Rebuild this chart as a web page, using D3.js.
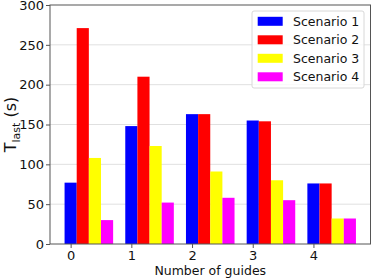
<!DOCTYPE html>
<html>
<head>
<meta charset="utf-8">
<script src="https://cdn.jsdelivr.net/npm/d3@7"></script>
<style>
  body { margin: 0; background: #fff; }
  text { font-family: "DejaVu Sans", sans-serif; }
</style>
</head>
<body>
<svg id="chart" width="374" height="278"></svg>
<script>
// data
const guides = [0, 1, 2, 3, 4];
const scenarios = ["Scenario 1", "Scenario 2", "Scenario 3", "Scenario 4"];
const colors = ["#0000ff", "#ff0000", "#ffff00", "#ff00ff"];
const scenario1 = [77, 148, 163, 155, 76];
const scenario2 = [271, 210, 163, 154, 76];
const scenario3 = [108, 123, 91, 80, 32];
const scenario4 = [30, 52, 58, 55, 32];
const series = [scenario1, scenario2, scenario3, scenario4];
const yTicks = [0, 50, 100, 150, 200, 250, 300];

const svg = d3.select("#chart");
const plotL = 50, plotR = 370.5, plotT = 5, plotB = 244;
const barW = 0.2;

// matplotlib-style x range: data from -0.1 to 4.7 plus 5% margins
const x = d3.scaleLinear().domain([-0.34, 4.94]).range([plotL, plotR]);
const y = d3.scaleLinear().domain([0, 300]).range([plotB, plotT]);

// grid
svg.append("g")
  .selectAll("line")
  .data(yTicks.slice(1, -1))
  .enter()
  .append("line")
  .attr("x1", plotL)
  .attr("x2", plotR)
  .attr("y1", (d) => y(d))
  .attr("y2", (d) => y(d))
  .attr("stroke", "#e0e0e0")
  .attr("stroke-width", 1);

// bars
series.forEach((vals, i) => {
  svg.append("g")
    .selectAll("rect")
    .data(vals)
    .enter()
    .append("rect")
    .attr("x", (d, j) => x(guides[j] + i * barW - barW / 2))
    .attr("width", (d, j) => x(guides[j] + i * barW + barW / 2) - x(guides[j] + i * barW - barW / 2))
    .attr("y", (d) => y(d))
    .attr("height", (d) => y(0) - y(d))
    .attr("fill", colors[i]);
});

// frame
svg.append("rect")
  .attr("x", plotL)
  .attr("y", plotT)
  .attr("width", plotR - plotL)
  .attr("height", plotB - plotT)
  .attr("fill", "none")
  .attr("stroke", "#555")
  .attr("stroke-width", 1);

// axes
const yAxis = d3.axisLeft(y).tickValues(yTicks).tickSize(4).tickPadding(2);
const gy = svg.append("g").attr("transform", `translate(${plotL},0)`).call(yAxis);
const xAxis = d3.axisBottom(x).tickValues(guides).tickSize(4).tickPadding(3).tickFormat(d3.format("d"));
const gx = svg.append("g").attr("transform", `translate(0,${plotB})`).call(xAxis);
[gy, gx].forEach((g) => {
  g.select(".domain").remove();
  g.selectAll("line").attr("stroke", "#555");
  g.selectAll("text").attr("font-size", 13).attr("fill", "#111").style("font-family", "DejaVu Sans, sans-serif");
});

// axis labels
svg.append("text")
  .attr("x", (plotL + plotR) / 2)
  .attr("y", 275)
  .attr("text-anchor", "middle")
  .attr("font-size", 12.5)
  .attr("fill", "#111")
  .text("Number of guides");

const yl = svg.append("text")
  .attr("transform", `translate(16,${(plotT + plotB) / 2}) rotate(-90)`)
  .attr("text-anchor", "middle")
  .attr("font-size", 16)
  .attr("fill", "#111");
yl.append("tspan").text("T");
yl.append("tspan").attr("font-size", 11).attr("dy", 4).text("last");
yl.append("tspan").attr("dy", -4).text(" (s)");

// legend
const legend = svg.append("g").attr("transform", "translate(252,11)");
legend.append("rect")
  .attr("width", 112)
  .attr("height", 77)
  .attr("rx", 2)
  .attr("fill", "#fff")
  .attr("fill-opacity", 0.8)
  .attr("stroke", "#d8d8d8");
scenarios.forEach((s, i) => {
  const row = legend.append("g").attr("transform", `translate(0,${10.3 + i * 18.5})`);
  row.append("rect")
    .attr("x", 5.7)
    .attr("y", -4.5)
    .attr("width", 25)
    .attr("height", 9)
    .attr("fill", colors[i]);
  row.append("text")
    .attr("x", 41)
    .attr("y", 4.5)
    .attr("font-size", 12.5)
    .attr("fill", "#111")
    .text(s);
});
</script>
</body>
</html>
